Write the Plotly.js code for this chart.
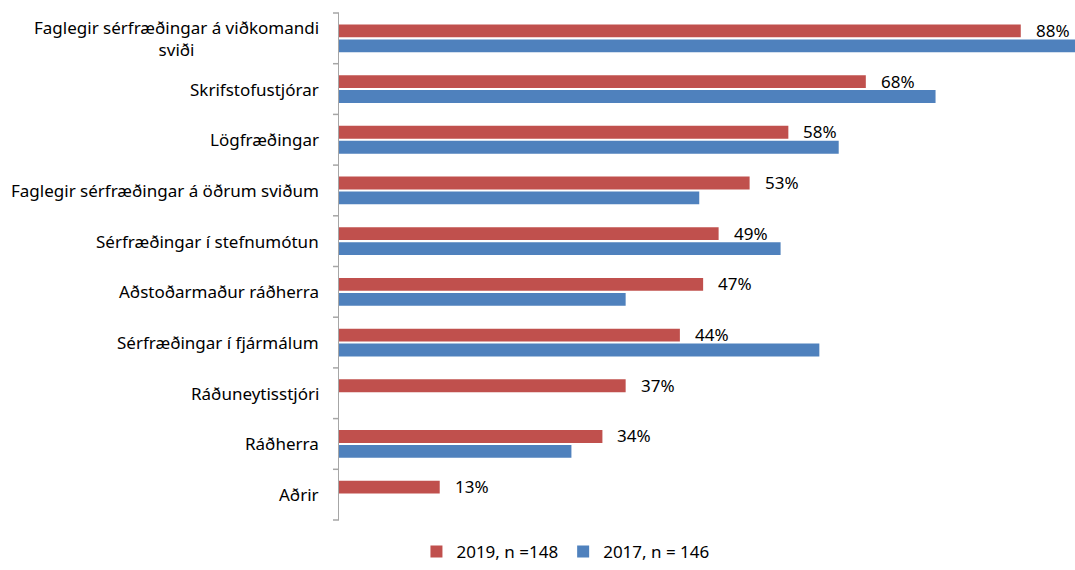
<!DOCTYPE html>
<html><head><meta charset="utf-8">
<script src="https://cdn.plot.ly/plotly-3.0.1.min.js"></script>
<style>html,body{margin:0;padding:0;background:#fff}#chart{width:1075px;height:570px}</style>
</head><body><div id="chart"></div>
<script>
var categories = ["Faglegir sérfræðingar á viðkomandi<br>sviði","Skrifstofustjórar","Lögfræðingar","Faglegir sérfræðingar á öðrum sviðum","Sérfræðingar í stefnumótun","Aðstoðarmaður ráðherra","Sérfræðingar í fjármálum","Ráðuneytisstjóri","Ráðherra","Aðrir"];
var values2019 = [88,68,58,53,49,47,44,37,34,13];
var values2017 = [95,77,64.5,46.5,57,37,62,null,30,null];
var name2019 = "2019, n =148";
var name2017 = "2017, n = 146";

var FONT = "Noto Sans, Open Sans, sans-serif";
var AXIS = "#a6a6a6";
var traces = [
  {type:"bar", orientation:"h", name:name2019, y:categories, x:values2019, marker:{color:"#C0504D"}, hoverinfo:"x"},
  {type:"bar", orientation:"h", name:name2017, y:categories, x:values2017, marker:{color:"#4F81BD"}, hoverinfo:"x"}
];
var annotations = [];
var shapes = [];
categories.forEach(function(c,i){
  annotations.push({xref:"paper", yref:"y", x:0, y:c, text:c, showarrow:false, xanchor:"right", align:"center", xshift:-18, font:{family:FONT,size:17,color:"#000"}});
  annotations.push({xref:"x", yref:"y", x:values2019[i], y:c, text:values2019[i]+"%", showarrow:false, xanchor:"left", xshift:13, yshift:8, font:{family:FONT,size:17,color:"#000"}});
});
// category boundary ticks on the y axis (in axis-domain fractions)
var N = categories.length;
for (var k = 0; k <= N; k++) {
  shapes.push({type:"line", xref:"paper", yref:"y domain", x0:-6/736, x1:0, y0:k/N, y1:k/N, line:{color:AXIS, width:1.5}});
}
var layout = {
  width:1075, height:570,
  margin:{l:339, r:0, t:13, b:50},
  paper_bgcolor:"#fff", plot_bgcolor:"#fff",
  barmode:"group", bargap:0.41, bargroupgap:0.14,
  font:{family:FONT, size:17, color:"#000"},
  xaxis:{range:[0,95], showgrid:false, zeroline:false, showticklabels:false, showline:false, fixedrange:true},
  yaxis:{type:"category", autorange:"reversed", showticklabels:false, showgrid:false, zeroline:false,
         showline:true, linecolor:AXIS, linewidth:1.5, ticks:""},
  showlegend:true,
  legend:{orientation:"h", xref:"container", yref:"container", x:0.526, xanchor:"center", y:0.0, yanchor:"bottom", font:{family:FONT,size:17,color:"#000"}, traceorder:"normal"},
  annotations:annotations,
  shapes:shapes
};
Plotly.newPlot("chart", traces, layout, {displayModeBar:false, staticPlot:true});
</script></body></html>
